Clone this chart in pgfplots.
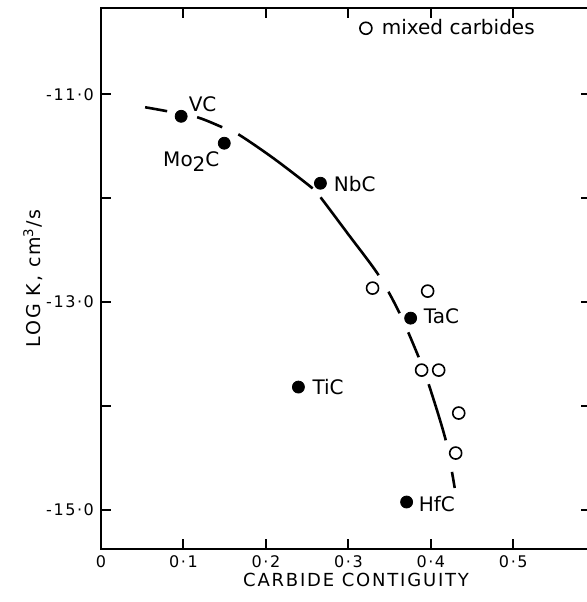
\documentclass[border=0pt]{standalone}
\usepackage{fontspec}
\setmainfont{DejaVu Sans}
\newfontfamily\spaced{DejaVu Sans}[LetterSpace=10]
\usepackage{pgfplots}
\pgfplotsset{compat=1.18}
\begin{document}
\begin{tikzpicture}
\begin{axis}[
  scale only axis, width=247.4pt, height=270.5pt,
  xmin=0, xmax=0.6, ymin=-15.375, ymax=-10.17,
  axis line style={line width=1.2pt},
  xtick pos=both, ytick pos=left,
  tick align=inside, major tick length=5pt,
  tick style={line width=1pt, black},
  xtick={0,0.1,0.2,0.3,0.4,0.5},
  xticklabels={0,0·1,0·2,0·3,0·4,0·5},
  ytick={-15,-14,-13,-12,-11},
  yticklabels={-15·0,,-13·0,,-11·0},
  xticklabel style={font=\spaced\fontsize{8}{10}\selectfont},
  yticklabel style={font=\spaced\fontsize{8}{10}\selectfont},
  xlabel={CARBIDE CONTIGUITY},
  ylabel={LOG K, cm\textsuperscript{3}/s},
  every axis x label/.style={at={(axis description cs:0.5155,-0.0573)}, anchor=center, font=\spaced\fontsize{9}{11}\selectfont},
  every axis y label/.style={at={(axis description cs:-0.1374,0.5)}, anchor=center, rotate=90, font=\spaced\fontsize{9.5}{11}\selectfont},
  legend image code/.code={\draw[#1] plot coordinates {(0pt,0pt)}; \path[draw=none] (-3.4pt,0pt) -- (6pt,0pt);},
  legend style={draw=none, fill=none, at={(axis cs:0.3125,-10.365)}, anchor=west, inner sep=0pt, font=\fontsize{10}{12}\selectfont},
  clip=false,
]
\coordinate (sw) at (rel axis cs:0,0);
\coordinate (ne) at (axis cs:0.589,-10.17);
\addplot[black, line width=1.3pt, smooth, forget plot,
  dash pattern=on 11.2pt off 15.3pt on 13.5pt off 8.8pt on 46pt off 6pt on 48.6pt off 9.6pt on 12.1pt off 10.5pt on 13.5pt off 14.4pt on 29.3pt off 16.1pt on 8.4pt off 30pt]
  coordinates {
  (0.0535,-11.125) (0.0802,-11.163) (0.1166,-11.221) (0.1470,-11.317)
  (0.1665,-11.385) (0.2090,-11.615) (0.2564,-11.904) (0.2661,-11.990)
  (0.2989,-12.337) (0.3366,-12.740) (0.3621,-13.106) (0.3852,-13.529)
  (0.3973,-13.788) (0.4180,-14.327) (0.4289,-14.788)};
\addplot[only marks, mark=*, mark size=3pt, black, forget plot] coordinates {
  (0.0972,-11.212) (0.1495,-11.471) (0.2661,-11.856) (0.3755,-13.154)
  (0.2394,-13.817) (0.3706,-14.923)};
\addplot[only marks, mark=o, mark size=3pt, black, mark options={line width=0.8pt}] coordinates {
  (0.3293,-12.865) (0.3961,-12.894) (0.3888,-13.654) (0.4095,-13.654)
  (0.4338,-14.067) (0.4301,-14.452)};
\addlegendentry{mixed carbides}
\begingroup
\fontsize{9}{11}\selectfont
\node[anchor=west, inner sep=0pt] at (axis cs:0.106,-11.10) {VC};
\node[anchor=west, inner sep=0pt] at (axis cs:0.075,-11.65) {Mo\raisebox{-0.45ex}{2}C};
\node[anchor=west, inner sep=0pt] at (axis cs:0.282,-11.86) {NbC};
\node[anchor=west, inner sep=0pt] at (axis cs:0.391,-13.14) {TaC};
\node[anchor=west, inner sep=0pt] at (axis cs:0.256,-13.82) {TiC};
\node[anchor=west, inner sep=0pt] at (axis cs:0.385,-14.94) {HfC};
\endgroup
\end{axis}
\begin{axis}[
  scale only axis, width=247.4pt, height=270.5pt,
  xmin=0, xmax=0.6, ymin=-15.375, ymax=-10.17,
  axis line style={draw=none},
  xtick=\empty, ytick pos=right,
  tick align=inside, major tick length=7.4pt,
  tick style={line width=1pt, black},
  ytick={-15,-14,-13,-12,-11}, yticklabels={},
]
\end{axis}
\pgfresetboundingbox
\path ([xshift=-50.5pt,yshift=-26.5pt]sw) rectangle ([yshift=4pt]ne);
\end{tikzpicture}
\end{document}
